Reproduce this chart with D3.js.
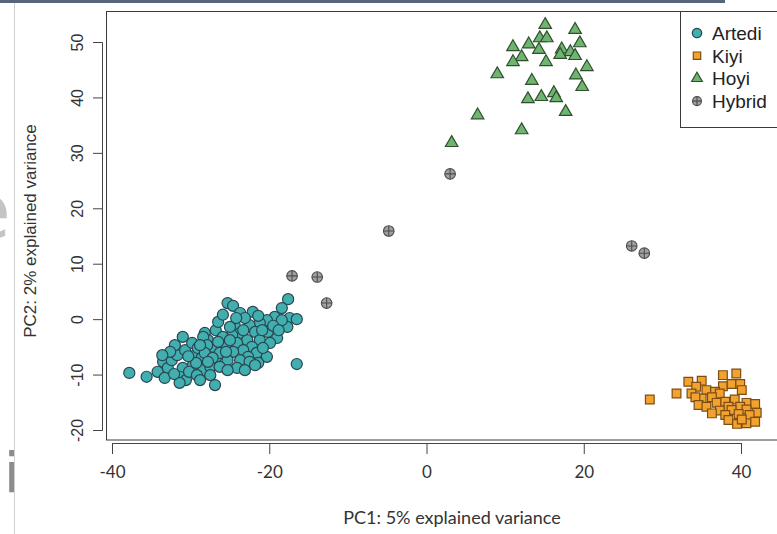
<!DOCTYPE html>
<html>
<head>
<meta charset="utf-8">
<script src="https://cdnjs.cloudflare.com/ajax/libs/d3/7.8.5/d3.min.js"></script>
<style>
body { margin: 0; background: #fff; }
svg { display: block; }
</style>
</head>
<body>
<div id="scatter"></div>
<script>
// legend / groups
var species = ["Artedi", "Kiyi", "Hoyi", "Hybrid"];
var xTicks = [-40, -20, 0, 20, 40];
var yTicks = [-20, -10, 0, 10, 20, 30, 40, 50];

// PC scores
var artediX = [-37.8, -35.6, -33.5, -32.9, -32.4, -31.7, -31.0, -30.7, -31.0, -31.4, -30.6, -29.8, -29.4, -29.1, -29.7, -28.6, -28.2, -27.8, -28.4, -27.5, -27.3, -26.8, -26.7, -26.9,
  -25.3, -24.6, -23.7, -22.1, -17.6, -18.4, -19.3, -20.3, -17.4, -16.5, -17.7, -21.2, -22.5, -24.4, -23.7, -24.7, -21.8, -20.2, -19.0, -22.8, -21.2, -24.1, -25.6, -27.2, -28.4, -27.9,
  -22.2, -23.3, -24.6, -26.3, -21.6, -28.2, -20.3, -22.7, -23.7, -25.3, -27.2, -21.4, -26.3, -24.1, -22.5, -16.5,
  -34.2, -33.3, -32.0, -30.2, -29.2, -31.4, -32.1, -28.8, -27.5, -25.9, -25.0, -23.1, -20.9, -19.9, -18.4, -19.5, -23.1, -25.3, -20.8, -26.5, -29.3, -30.3, -25.5, -24.2,
  -21.4, -18.8, -25.0, -26.5, -23.3, -25.9, -27.8, -32.6, -21.8, -28.8, -33.6];
var artediY = [-9.7, -10.4, -7.7, -8.8, -7.4, -6.5, -3.2, -5.6, -8.8, -10.4, -11.0, -4.3, -6.5, -5.2, -8.3, -7.0, -2.5, -3.8, -9.2, -8.6, -5.9, -2.0, -6.8, -11.9,
  2.9, 2.4, 1.1, 1.3, 3.6, 2.0, 0.4, -0.2, 0.2, 0.0, -1.4, -0.7, -1.1, -1.1, -2.5, -2.9, -2.3, -2.3, -3.4, -3.8, -3.8, -4.3, -4.7, -5.0, -3.2, -4.7,
  -5.0, -5.6, -5.9, -6.1, -6.1, -6.1, -6.8, -6.8, -7.4, -7.4, -7.0, -7.9, -8.6, -8.8, -7.7, -8.1,
  -9.5, -10.6, -4.7, -9.5, -10.1, -11.5, -9.9, -4.7, -10.1, -3.2, -1.4, 0.2, -2.0, -4.3, -0.2, -1.2, -9.2, -9.2, -5.2, -4.1, -7.9, -6.7, -5.9, 0.2,
  0.6, -2.0, -3.8, -0.5, -2.0, 0.8, -7.7, -5.9, -8.3, -11.0, -6.5];

var kiyiX = [28.4, 31.8, 33.3, 35.0, 34.3, 37.7, 39.4, 37.7, 38.8, 39.9, 40.1, 33.7, 35.6, 36.7, 37.3, 35.0, 34.2, 36.3, 34.6, 35.6,
  36.9, 38.0, 39.2, 40.7, 41.8, 38.4, 39.9, 37.3, 38.8, 40.7, 42.0, 36.3, 38.0, 39.7, 41.1, 38.4, 39.5, 40.7, 41.8, 40.1];
var kiyiY = [-14.5, -13.4, -11.3, -11.1, -12.2, -10.1, -9.8, -12.1, -11.7, -11.7, -12.8, -13.4, -12.8, -13.1, -13.4, -14.3, -14.1, -14.1, -15.5, -15.8,
  -15.1, -14.9, -14.5, -15.1, -15.3, -15.8, -15.8, -16.5, -16.4, -16.3, -16.9, -17.0, -17.3, -17.1, -17.3, -18.2, -18.9, -18.8, -18.5, -18.1];

var hoyiX = [15.1, 18.9, 14.4, 15.3, 11.0, 13.0, 14.3, 17.2, 19.5, 18.3, 18.9, 17.0, 12.1, 11.0, 15.2, 20.4, 9.0, 19.0, 13.4, 19.8, 12.9, 14.6, 16.2, 16.5, 17.7, 12.1, 6.5, 3.2];
var hoyiY = [53.1, 52.2, 50.7, 50.7, 49.1, 49.6, 48.6, 48.7, 49.8, 48.2, 47.5, 47.7, 47.3, 46.4, 46.4, 45.5, 44.2, 44.0, 43.0, 41.9, 39.7, 40.1, 40.8, 39.9, 37.4, 34.1, 36.8, 31.8];

var hybridX = [3.0, -4.8, 26.1, 27.7, -17.1, -13.9, -12.7];
var hybridY = [26.2, 15.9, 13.2, 11.9, 7.8, 7.6, 2.9];

var svgWidth = 777;
var svgHeight = 534;

var svg = d3.select("#scatter")
  .append("svg")
  .attr("width", svgWidth)
  .attr("height", svgHeight)
  .style("font-family", "'Liberation Sans', Arial, sans-serif");

svg.append("rect").attr("width", svgWidth).attr("height", svgHeight).attr("fill", "#fff");

// screenshot leftovers round the plot (only their right edges show)
svg.append("text").attr("x", -36).attr("y", 238).attr("font-size", 76)
  .attr("font-family", "DejaVu Sans").attr("fill", "#c4c4c4").text("e");
svg.append("text").attr("x", 4).attr("y", 492).attr("font-size", 55)
  .attr("font-family", "DejaVu Sans").attr("fill", "#8c8c8c").text("i");
svg.append("line").attr("x1", 14.5).attr("x2", 14.5).attr("y1", 0).attr("y2", svgHeight)
  .attr("stroke", "#cfcfcf").attr("stroke-width", 1);
svg.append("rect").attr("x", 0).attr("y", 0).attr("width", 725).attr("height", 3).attr("fill", "#56657a");

var xScale = d3.scaleLinear().domain([-40, 40]).range([112, 741]);
var yScale = d3.scaleLinear().domain([-20, 50]).range([430, 42]);

// plot box (runs off the right edge)
svg.append("rect")
  .attr("x", 106.5).attr("y", 11.5)
  .attr("width", 700).attr("height", 428.5)
  .attr("fill", "none").attr("stroke", "#3a3a3a").attr("stroke-width", 1);

// axes, plain hyphen minus like the original
var plain = function(d) { return String(d); };

var bottomAxis = d3.axisBottom(xScale).tickValues(xTicks).tickSize(11).tickPadding(12).tickFormat(plain);
var xAxisG = svg.append("g").attr("transform", "translate(0, 443)").call(bottomAxis);
xAxisG.selectAll("path, line").attr("stroke", "#444");
xAxisG.selectAll("text").attr("font-family", "Lato, 'Open Sans', sans-serif").attr("font-size", 17).attr("fill", "#333");

var leftAxis = d3.axisLeft(yScale).tickValues(yTicks).tickSize(9).tickPadding(0).tickFormat(plain);
var yAxisG = svg.append("g").attr("transform", "translate(102, 0)").call(leftAxis);
yAxisG.selectAll("path, line").attr("stroke", "#444");
yAxisG.selectAll("text")
  .attr("font-size", 16).attr("fill", "#333")
  .attr("x", null).attr("dy", null)
  .attr("text-anchor", "middle")
  .attr("transform", "translate(-25, 0) rotate(-90)")
  .attr("y", 6);

svg.append("text")
  .attr("transform", "translate(452, 524)")
  .attr("text-anchor", "middle")
  .attr("font-family", "Lato, 'Open Sans', sans-serif")
  .attr("font-size", 18).attr("fill", "#333")
  .text("PC1: 5% explained variance");

svg.append("text")
  .attr("transform", "translate(36, 231) rotate(-90)")
  .attr("text-anchor", "middle")
  .attr("font-size", 17).attr("fill", "#333")
  .text("PC2: 2% explained variance");

// marks
var styles = {
  Artedi: { shape: d3.symbolCircle, size: 96, fill: "#41afb0", stroke: "#2a4650" },
  Kiyi: { shape: d3.symbolSquare, size: 76, fill: "#f1a22f", stroke: "#7d4d12" },
  Hoyi: { shape: d3.symbolTriangle, size: 68, fill: "#6fb56f", stroke: "#2f4f2f" },
  Hybrid: { fill: "#a0a0a0", stroke: "#4d4d4d" }
};

function pairs(xs, ys) {
  return xs.map(function(x, i) { return { x: x, y: ys[i] }; });
}

var groups = [
  { name: "Artedi", pts: pairs(artediX, artediY) },
  { name: "Kiyi", pts: pairs(kiyiX, kiyiY) },
  { name: "Hoyi", pts: pairs(hoyiX, hoyiY) },
  { name: "Hybrid", pts: pairs(hybridX, hybridY) }
];

var chartGroup = svg.append("g");

function drawMark(g, name, cx, cy, scale) {
  var st = styles[name];
  var k = scale || 1;
  if (name === "Hybrid") {
    var r = 5.3 * k;
    var h = g.append("g").attr("transform", "translate(" + cx + "," + cy + ")");
    h.append("circle").attr("r", r).attr("fill", st.fill).attr("stroke", st.stroke).attr("stroke-width", 1.1);
    h.append("path").attr("d", "M" + (-r) + ",0H" + r + "M0," + (-r) + "V" + r).attr("stroke", st.stroke).attr("stroke-width", 1.1);
    return;
  }
  g.append("path")
    .attr("d", d3.symbol().type(st.shape).size(st.size * k * k)())
    .attr("transform", "translate(" + cx + "," + cy + ")")
    .attr("fill", st.fill)
    .attr("stroke", st.stroke)
    .attr("stroke-width", 1.2);
}

groups.forEach(function(grp) {
  grp.pts.forEach(function(d) {
    drawMark(chartGroup, grp.name, xScale(d.x), yScale(d.y));
  });
});

// legend
var legend = svg.append("g");
legend.append("rect")
  .attr("x", 680.5).attr("y", 11.5).attr("width", 120).attr("height", 116)
  .attr("fill", "#fff").attr("stroke", "#3a3a3a").attr("stroke-width", 1);

species.forEach(function(name, i) {
  var ly = 33 + i * 22.7;
  drawMark(legend, name, 697, ly, 0.85);
  legend.append("text")
    .attr("x", 712).attr("y", ly + 7)
    .attr("font-size", 19).attr("fill", "#222")
    .text(name);
});
</script>
</body>
</html>
